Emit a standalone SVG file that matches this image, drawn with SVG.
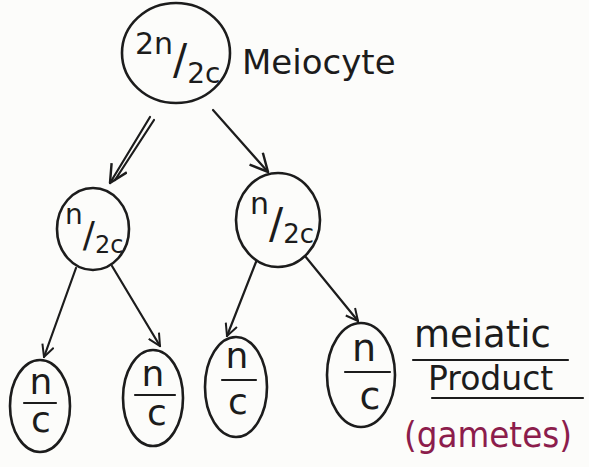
<svg xmlns="http://www.w3.org/2000/svg" width="589" height="467" viewBox="0 0 589 467">
<style>
.n{fill:none;stroke:#1c1c1c;stroke-width:2.6}
.c{fill:none;stroke:#1c1c1c;stroke-width:2.2;stroke-linecap:round}
.t{font-family:"DejaVu Sans","Liberation Sans",sans-serif;fill:#1c1c1c}
.lab{font-family:"DejaVu Sans","Liberation Sans",sans-serif;fill:#1c1c1c}
.g{font-family:"DejaVu Sans","Liberation Sans",sans-serif;fill:#8c1d4c}
</style>
<defs>
<marker id="ah" viewBox="0 0 14 14" refX="13" refY="7" markerWidth="14" markerHeight="14" markerUnits="userSpaceOnUse" orient="auto">
<path d="M1,1 L13,7 L1,13" fill="none" stroke="#1c1c1c" stroke-width="2"/>
</marker>
<marker id="ahb" viewBox="0 0 18 18" refX="17" refY="9" markerWidth="20" markerHeight="20" markerUnits="userSpaceOnUse" orient="auto">
<path d="M1,1 L17,9 L1,17" fill="none" stroke="#1c1c1c" stroke-width="2.2"/>
</marker>
</defs>
<rect width="589" height="467" fill="#fcfcfa"/>

<g id="connectors">
<line class="c" x1="150" y1="117" x2="110" y2="183" marker-end="url(#ahb)"/>
<line class="c" x1="154" y1="120" x2="115" y2="180"/>
<line class="c" x1="213" y1="110" x2="268" y2="172" marker-end="url(#ahb)"/>
<line class="c" x1="76" y1="268" x2="44" y2="357" marker-end="url(#ah)"/>
<line class="c" x1="112" y1="266" x2="160" y2="346" marker-end="url(#ah)"/>
<line class="c" x1="256" y1="262" x2="227" y2="336" marker-end="url(#ah)"/>
<line class="c" x1="305" y1="256" x2="358" y2="321" marker-end="url(#ah)"/>
</g>

<g id="meiocyte">
<ellipse class="n" cx="176" cy="53" rx="54" ry="50"/>
<text class="t" x="135" y="54" font-size="30">2n<tspan font-size="42" dy="20">/</tspan><tspan font-size="28" dy="9">2c</tspan></text>
<text class="lab" x="242" y="74" font-size="34">Meiocyte</text>
</g>

<g id="mid-left">
<ellipse class="n" cx="93" cy="229" rx="36" ry="41"/>
<text class="t" x="65" y="224" font-size="28">n<tspan font-size="36" dy="23">/</tspan><tspan font-size="24" dy="6">2c</tspan></text>
</g>

<g id="mid-right">
<ellipse class="n" cx="278" cy="220" rx="42" ry="47"/>
<text class="t" x="250" y="214" font-size="30">n<tspan font-size="42" dy="24">/</tspan><tspan font-size="26" dy="5">2c</tspan></text>
</g>

<g id="gamete-1">
<ellipse class="n" cx="40" cy="406" rx="30" ry="46"/>
<text class="t" x="41" y="394" font-size="36" text-anchor="middle">n</text>
<line class="c" x1="24" y1="403" x2="56" y2="403"/>
<text class="t" x="41" y="432" font-size="36" text-anchor="middle">c</text>
</g>

<g id="gamete-2">
<ellipse class="n" cx="153" cy="398" rx="30" ry="48"/>
<text class="t" x="153" y="386" font-size="36" text-anchor="middle">n</text>
<line class="c" x1="135" y1="395" x2="175" y2="395"/>
<text class="t" x="157" y="425" font-size="36" text-anchor="middle">c</text>
</g>

<g id="gamete-3">
<ellipse class="n" cx="236" cy="387" rx="31" ry="50"/>
<text class="t" x="237" y="368" font-size="36" text-anchor="middle">n</text>
<line class="c" x1="222" y1="380" x2="256" y2="380"/>
<text class="t" x="238" y="414" font-size="36" text-anchor="middle">c</text>
</g>

<g id="gamete-4">
<ellipse class="n" cx="361" cy="375" rx="34" ry="52"/>
<text class="t" x="364" y="361" font-size="38" text-anchor="middle">n</text>
<line class="c" x1="345" y1="372" x2="390" y2="372"/>
<text class="t" x="370" y="409" font-size="38" text-anchor="middle">c</text>
</g>

<g id="label">
<text class="lab" x="414" y="347" font-size="37">meiatic</text>
<line class="c" x1="413" y1="360" x2="568" y2="360"/>
<text class="lab" x="428" y="390" font-size="33">Product</text>
<line class="c" x1="432" y1="398" x2="583" y2="398"/>
<text class="g" x="404" y="447" font-size="36" textLength="168" lengthAdjust="spacingAndGlyphs">(gametes)</text>
</g>
</svg>
